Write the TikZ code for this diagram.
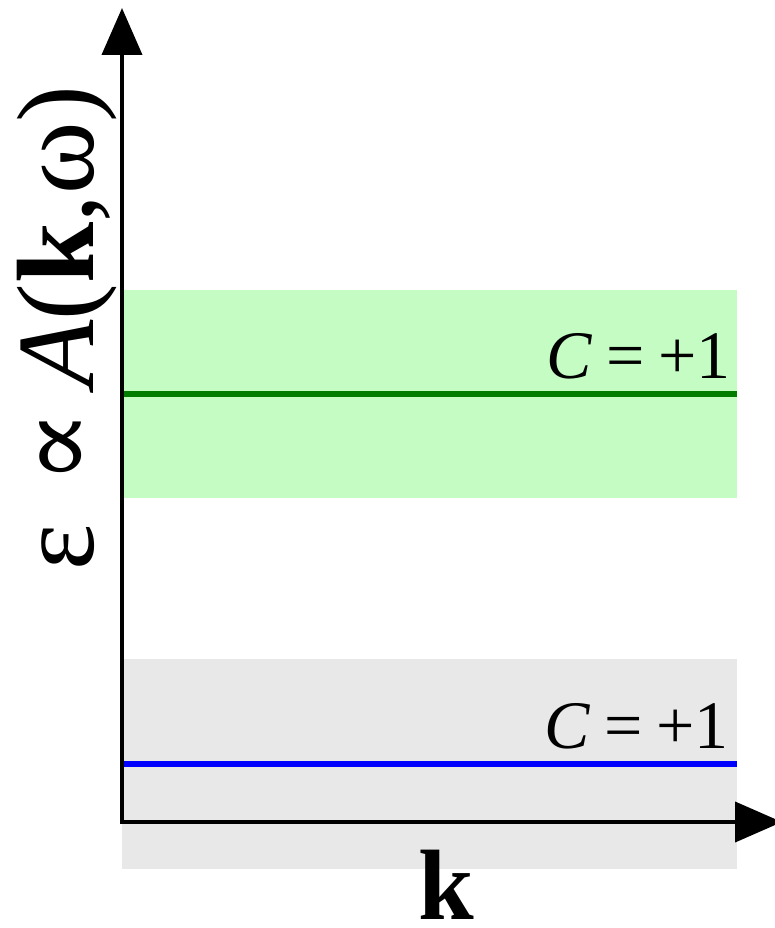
\documentclass[tikz,border=0pt]{standalone}
\usepackage{fontspec}
\setmainfont{Liberation Serif}
\newfontfamily\symbolfont{DejaVu Serif}
\usetikzlibrary{arrows.meta}

\definecolor{bandgreen}{RGB}{196,252,196}
\definecolor{bandgray}{RGB}{232,232,232}
\definecolor{levelgreen}{RGB}{0,125,0}
\definecolor{levelblue}{RGB}{0,0,255}

\begin{document}
\begin{tikzpicture}[x=1pt,y=-1pt,
  level/.style={line width=6pt},
  axisline/.style={line width=4pt, line join=miter,
    {Triangle[length=47pt,width=40pt]}-{Triangle[length=47pt,width=40pt]}},
  chern/.style={anchor=base east, inner sep=0pt, font=\fontsize{68}{72}\selectfont},
  axislabel/.style={inner sep=0pt}
]
\useasboundingbox (0,0) rectangle (775,928);

% energy bands
\fill[bandgreen] (122,290) rectangle (737,498);
\fill[bandgray]  (122,659) rectangle (737,869);

% flat levels inside the bands
\coordinate (g0) at (122,394);
\coordinate (g1) at (737,394);
\coordinate (b0) at (122,764);
\coordinate (b1) at (737,764);
\draw[level, levelgreen] (g0) -- (g1);
\draw[level, levelblue]  (b0) -- (b1);

% Chern numbers
\node[chern] (cgreen) at (731,378) {\textit{C}\hspace{0.2em}=\hspace{0.2em}+1};
\node[chern] (cblue)  at (729,748) {\textit{C}\hspace{0.2em}=\hspace{0.2em}+1};

% axes
\coordinate (ytip)   at (122,8);
\coordinate (origin) at (122,822);
\coordinate (xtip)   at (782,822);
\draw[axisline] (ytip) -- (origin) -- (xtip);

% axis labels
\node[axislabel, anchor=base, font=\fontsize{100}{110}\selectfont] (klab) at (446,919) {\textbf{k}};
\node[axislabel, anchor=base, rotate=90, font=\fontsize{110}{120}\selectfont] (elab) at (93,328)
  {ε\hspace{40pt}{\symbolfont ∝}\hspace{22pt}\textit{A}(\textbf{k},ω)};
\end{tikzpicture}
\end{document}
